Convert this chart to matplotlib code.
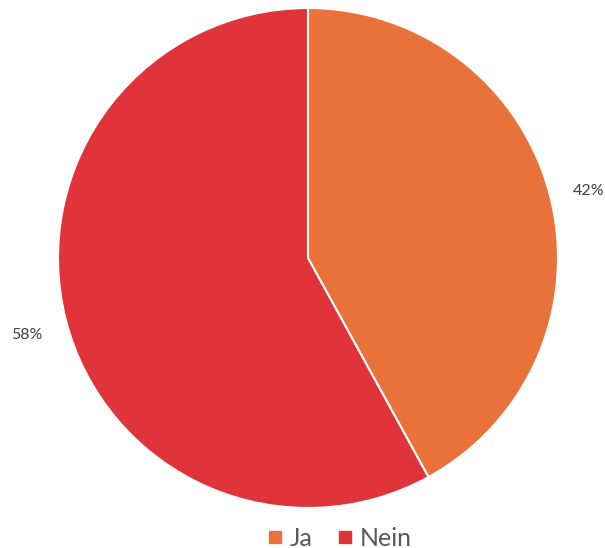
import matplotlib.pyplot as plt
from matplotlib.lines import Line2D
import numpy as np

plt.rcParams['font.family'] = ['Lato', 'DejaVu Sans']

labels = ['Ja', 'Nein']
values = [42, 58]
colors = ['#E9723A', '#E0333A']

fig = plt.figure(figsize=(6.05, 5.48), dpi=100)
ax = fig.add_axes([58 / 605, 40 / 548, 500 / 605, 500 / 548])

wedges, _ = ax.pie(values, colors=colors, startangle=90, counterclock=False,
                   radius=1, wedgeprops=dict(edgecolor='white', linewidth=1.5))

# percent labels outside the slices
for w, v in zip(wedges, values):
    mid = np.deg2rad((w.theta1 + w.theta2) / 2)
    ax.text(1.16 * np.cos(mid), 1.16 * np.sin(mid) - 0.02, f'{v}%',
            ha='center', va='center', fontsize=11.5, color='#404040')

ax.set_xlim(-1, 1)
ax.set_ylim(-1, 1)
ax.set_aspect('equal')
ax.axis('off')

handles = [Line2D([], [], marker='s', linestyle='', color=c, markersize=8) for c in colors]
fig.legend(handles, labels, loc='center', bbox_to_anchor=(337 / 605, 10 / 548), ncol=2,
           frameon=False, fontsize=18, labelcolor='#595959', handletextpad=0.1,
           columnspacing=0.8, handlelength=1.0)

fig.savefig('out.png', dpi=100)
